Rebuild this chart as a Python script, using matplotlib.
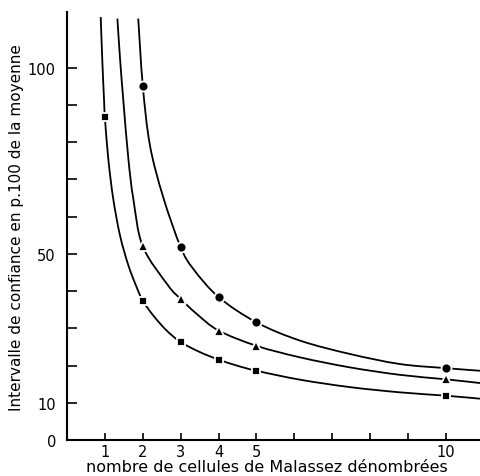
import matplotlib
matplotlib.use("Agg")
import matplotlib.pyplot as plt
from matplotlib.path import Path
from matplotlib.patches import PathPatch

# points mesures (nombre de cellules, intervalle en p.100)
n_rond = [2, 3, 4, 5, 10]
ic_rond = [95.2, 51.8, 38.4, 31.6, 19.3]
n_tri = [2, 3, 4, 5, 10]
ic_tri = [52.0, 37.9, 29.4, 25.3, 16.3]
n_carre = [1, 2, 3, 4, 5, 10]
ic_carre = [86.7, 37.4, 26.3, 21.6, 18.6, 11.9]

# points relevés le long des courbes tracées (entre les points mesures)
trace_rond_x = [1.88, 2.19, 2.54, 3.33, 6.15, 7.47, 8.79, 10.9]
trace_rond_y = [113.2, 79.1, 65.2, 46.0, 26.7, 23.1, 20.4, 18.6]
trace_tri_x = [1.33, 1.40, 1.49, 1.62, 1.75, 2.67, 3.42,
               6.15, 7.47, 8.79, 10.9]
trace_tri_y = [113.2, 102.4, 90.8, 75.5, 64.8, 41.5, 33.9,
               22.2, 19.5, 17.5, 15.3]
trace_carre_x = [0.89, 0.93, 0.98, 1.09, 1.22, 1.40, 1.62, 1.84, 2.28,
                 2.63, 3.51, 4.48, 6.15, 7.47, 8.79, 10.9]
trace_carre_y = [113.6, 102.4, 90.8, 75.5, 64.8, 54.9, 46.9, 41.0, 33.4,
                 29.4, 23.6, 20.0, 16.2, 14.2, 12.8, 11.1]

x_ticks = [1, 2, 3, 4, 5, 6, 7, 8, 9, 10]
x_labels = ['1', '2', '3', '4', '5', '', '', '', '', '10']
y_ticks = [0, 10, 20, 30, 40, 50, 60, 70, 80, 90, 100]
y_labels = ['0', '10', '', '', '', '50', '', '', '', '', '100']


def courbe(tx, ty, mx, my):
    # points relevés + points mesures, du haut vers le bas
    pts = sorted(zip(list(tx) + list(mx), list(ty) + list(my)), key=lambda p: -p[1])
    # courbe lisse (Catmull-Rom -> Bezier) passant par tous les points
    verts = [pts[0]]
    codes = [Path.MOVETO]
    n = len(pts)
    for i in range(n - 1):
        p0 = pts[i - 1] if i > 0 else pts[i]
        p1 = pts[i]
        p2 = pts[i + 1]
        p3 = pts[i + 2] if i + 2 < n else pts[i + 1]
        c1 = (p1[0] + (p2[0] - p0[0]) / 6, p1[1] + (p2[1] - p0[1]) / 6)
        c2 = (p2[0] - (p3[0] - p1[0]) / 6, p2[1] - (p3[1] - p1[1]) / 6)
        verts += [c1, c2, p2]
        codes += [Path.CURVE4] * 3
    return Path(verts, codes)


fig = plt.figure(figsize=(4.8, 4.77), dpi=100)
ax = fig.add_axes([67 / 480, 36 / 477, 413 / 480, 428.5 / 477])

series = [
    (trace_rond_x, trace_rond_y, n_rond, ic_rond, 'o', 7.2),
    (trace_tri_x, trace_tri_y, n_tri, ic_tri, '^', 7.2),
    (trace_carre_x, trace_carre_y, n_carre, ic_carre, 's', 6.4),
]
for tx, ty, mx, my, mk, ms in series:
    ax.add_patch(PathPatch(courbe(tx, ty, mx, my), facecolor='none',
                           edgecolor='black', lw=1.3, zorder=2, clip_on=False))
    ax.plot(mx, my, linestyle='none', marker=mk, markersize=ms,
            markerfacecolor='black', markeredgecolor='white',
            markeredgewidth=1.3, zorder=3, clip_on=False)

ax.set_xlim(0, 10.9)
ax.set_ylim(0, 115.1)

for s in ['top', 'right']:
    ax.spines[s].set_visible(False)
for s in ['left', 'bottom']:
    ax.spines[s].set_linewidth(1.5)

ax.set_xticks(x_ticks)
ax.set_xticklabels(x_labels)
ax.set_yticks(y_ticks)
ax.set_yticklabels(y_labels)
ax.tick_params(axis='x', direction='in', length=5, width=1.2, pad=3, labelsize=10.5)
ax.tick_params(axis='y', direction='in', length=7, width=1.2, pad=8, labelsize=10.5)

fig.text(266.7 / 480, (477 - 468) / 477, 'nombre de cellules de Malassez dénombrées',
         fontsize=11.5, ha='center', va='center')
fig.text(16.5 / 480, (477 - 227.5) / 477, 'Intervalle de confiance en p.100 de la moyenne',
         fontsize=11, ha='center', va='center', rotation=90)

fig.savefig('out.png', dpi=100)
